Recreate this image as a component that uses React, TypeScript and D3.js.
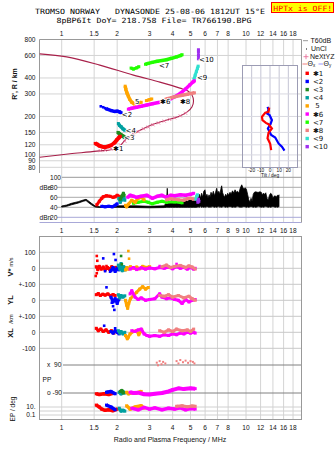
import React from 'react';
import * as d3 from 'd3';

const W = 335, H = 451;
const SANS = 'Liberation Sans, Arial, sans-serif';
const MONO = 'DejaVu Sans Mono, monospace';

// ---------- ticks ----------
const freqTicks = [1, 1.5, 2, 3, 4, 5, 6, 7, 8, 10, 12, 14, 16, 18];
const freqTicksMid = [1, 1.5, 2, 3, 4, 5, 6, 7, 8, 9, 10, 12, 14, 16, 18];
const heightTicks = [800, 600, 400, 300, 200, 150, 120, 100, 90, 80];
const ampTicks = [100, 80, 60, 40, 20];
const tiltTicks = [-20, -10, 0, 10, 20];
const epTicks = [10, 1, 0.1];

// ---------- legend ----------
const echoNames = ['✱1', '<2', '<3', '<4', ' 5', '✱6', '<7', '✱8', '<9', '<10'];
const echoColors = ['#ff0000', '#0000ff', '#1f8c1f', '#00a0a0', '#ffa500', '#ff00ff', '#22ff00', '#f08080', '#30e0d0', '#a030f0'];

// ---------- virtual height traces [MHz, km] ----------
const heightE1 = [[1.52, 123], [1.56, 121], [1.6, 118], [1.66, 116], [1.72, 115], [1.8, 117], [1.88, 120], [1.94, 125], [1.99, 131], [2.04, 136], [2.08, 140]];
const heightE2 = [[1.75, 229], [1.86, 222], [1.93, 219], [2.0, 220], [2.06, 217], [2.1, 214]];
const heightE2Dots = [[1.63, 240], [1.68, 236], [1.72, 232]];
const heightE3 = [[2.02, 150], [2.06, 146], [2.1, 143], [2.15, 140], [2.2, 137]];
const heightE4 = [[2.03, 176], [2.06, 170], [2.1, 166], [2.15, 160], [2.2, 156]];
const heightE5 = [[2.21, 345], [2.23, 325], [2.26, 305], [2.3, 288], [2.34, 272], [2.4, 258], [2.48, 250]];
const heightE5b = [[2.6, 255], [2.7, 258]];
const heightE5c = [[2.88, 266], [2.98, 270], [3.08, 274]];
const heightE6 = [[2.3, 228], [2.4, 232], [2.55, 236], [2.7, 240], [2.9, 246], [3.1, 251], [3.35, 257], [3.6, 263], [3.85, 272], [4.1, 285], [4.4, 303], [4.7, 328], [4.95, 352], [5.15, 372], [5.25, 380]];
const heightE7a = [[2.38, 478], [2.45, 470], [2.55, 480], [2.62, 490]];
const heightE7b = [[2.85, 512], [2.95, 520], [3.1, 530], [3.3, 540], [3.5, 548], [3.7, 556], [3.95, 570], [4.2, 585], [4.4, 598], [4.5, 608]];
const heightE8 = [[3.55, 268], [3.75, 275], [3.95, 281], [4.2, 287], [4.5, 293], [4.8, 298], [5.05, 303], [5.25, 306]];
const heightE9 = [[5.22, 392], [5.3, 420], [5.38, 450], [5.45, 475], [5.5, 495]];
const heightE10 = [[5.52, 565], [5.52, 600], [5.52, 640], [5.52, 665]];

// label anchors [MHz, km]
const echoLabelPos = [[1.9, 112], [2.12, 207], [2.18, 136], [2.22, 154], [2.5, 264], [3.42, 264], [3.37, 499], [4.38, 264], [5.42, 401], [5.56, 561]];

// model profile and NeXtYZ
const modelCurve = [[0.76, 617], [1.064, 585], [1.61, 504], [2.45, 421], [3.41, 371], [4.38, 333], [4.84, 316], [5.09, 294], [5.19, 264], [5.09, 237], [4.78, 216], [4.28, 199], [3.68, 187], [3.13, 174], [2.66, 156], [2.26, 135], [2.0, 113], [1.55, 107], [1.11, 102], [0.76, 96]];
const neXtYZ = [[1.62, 108], [1.72, 109], [1.85, 111], [1.97, 113], [2.08, 120], [2.2, 128], [2.32, 137], [2.45, 145], [2.6, 152], [2.78, 160], [2.95, 165], [3.13, 172], [3.35, 178], [3.6, 184], [3.85, 190], [4.1, 195], [4.4, 202], [4.7, 212]];

// tilt [deg, km]
const tiltX = [[-0.9, 235], [-1.6, 217], [-5.2, 214], [-8.8, 199], [-8.2, 187], [-4.5, 178], [-1.6, 174], [2.1, 161], [-1.6, 149], [-2.7, 135], [0.2, 122], [1.3, 109]];
const tiltY = [[-2.7, 238], [-1.6, 227], [-3.1, 211], [-0.5, 205], [2.1, 187], [0.5, 174], [-2.3, 161], [1.3, 143], [5.7, 137], [9.3, 123], [13, 116], [15.8, 108]];

// ---------- amplitude [MHz, dB] ----------
const unclFreq = [1.0, 1.065, 1.13, 1.23, 1.31, 1.355, 1.39, 1.45, 1.52, 1.61, 1.75, 2.0, 2.5, 3.0, 3.6, 3.7, 3.74, 3.78, 3.9, 4.0, 4.15, 4.3, 4.45, 4.6, 4.8, 5.0, 5.2, 5.4, 5.5, 5.58, 5.66, 5.74, 5.82, 5.9, 5.99, 6.06, 6.14, 6.22, 6.3, 6.38, 6.46, 6.55, 6.65, 6.74, 6.84, 6.93, 7.02, 7.12, 7.22, 7.3, 7.38, 7.46, 7.55, 7.65, 7.75, 7.85, 7.95, 8.05, 8.19, 8.3, 8.45, 8.6, 8.72, 8.85, 9.0, 9.15, 9.3, 9.4, 9.48, 9.6, 9.75, 9.9, 10.05, 10.2, 10.35, 10.5, 10.65, 10.8, 10.95, 11.1, 11.3, 11.5, 11.7, 11.9, 12.1, 12.25, 12.4, 12.6, 12.8, 13.0, 13.2, 13.4, 13.6, 13.8, 14.0, 14.2, 14.4, 14.6, 14.8, 15.0, 15.1];
const unclTop = [42.6, 44.6, 48, 51.3, 54.6, 56, 53.3, 48, 42.6, 41.3, 42, 43, 43, 42, 43, 50, 78, 48, 52, 55, 48, 52, 50, 57, 52, 56, 54, 60, 55, 66, 58, 68, 60, 72, 75, 62, 66, 58, 65, 60, 70, 64, 72, 63, 70, 78, 68, 72, 66, 76, 83, 70, 64, 60, 66, 62, 68, 64, 70, 66, 73, 68, 75, 70, 72, 68, 78, 82, 85, 80, 76, 79, 76, 66, 55, 50, 58, 52, 66, 70, 71, 70, 70, 71, 70, 64, 68, 66, 69, 58, 54, 64, 68, 66, 58, 62, 63, 60, 64, 63, 65];
const unclBottom = [40.5, 42, 45, 48.5, 52, 53.5, 50, 45, 40.5, 39.5, 40, 40, 39.5, 39, 39.5, 40, 40, 40, 40, 40, 40, 40, 40, 40, 40, 40, 40, 40, 41, 40, 42, 40, 41, 40, 41, 40, 42, 41, 40, 41, 40, 42, 41, 40, 41, 40, 41, 42, 40, 41, 40, 41, 42, 41, 40, 41, 40, 41, 42, 41, 40, 41, 40, 41, 42, 41, 40, 41, 40, 41, 42, 41, 40, 41, 40, 41, 42, 41, 40, 41, 40, 41, 42, 41, 40, 41, 40, 41, 42, 41, 40, 41, 40, 41, 42, 41, 40, 41, 40, 41, 41];

const ampE1 = [[1.55, 45], [1.6, 52], [1.65, 58], [1.68, 61], [1.75, 63], [1.83, 62], [1.9, 60], [1.95, 61], [2.0, 64], [2.05, 62]];
const ampE2 = [[1.65, 42], [1.72, 41], [1.8, 42], [1.88, 41], [1.95, 44], [2.0, 47]];
const ampE3 = [[2.08, 56], [2.12, 62], [2.16, 68], [2.18, 64]];
const ampE4 = [[2.04, 58], [2.08, 50], [2.12, 55], [2.17, 60], [2.2, 54]];
const ampE5 = [[2.22, 44], [2.25, 41], [2.3, 46], [2.4, 54], [2.5, 50], [2.6, 58], [2.7, 60], [2.8, 55]];
const ampE6 = [[2.28, 60], [2.35, 64], [2.45, 62], [2.55, 60], [2.7, 62], [2.9, 64], [3.1, 58], [3.3, 62], [3.5, 64], [3.7, 60], [3.9, 64], [4.1, 63], [4.4, 65], [4.7, 64], [5.0, 66], [5.2, 68]];
const ampE7 = [[2.45, 48], [2.6, 50], [2.8, 52], [2.95, 50], [3.1, 47], [3.3, 50], [3.5, 52], [3.7, 50], [4.1, 51], [4.5, 49]];
const ampE8 = [[3.7, 55], [3.9, 57], [4.05, 56], [4.3, 55], [4.6, 54], [4.8, 57], [5.0, 58], [5.2, 56]];
const ampE9 = [[5.35, 56], [5.4, 62], [5.45, 65]];
const ampE10 = [[5.48, 50], [5.52, 56], [5.55, 52]];

// ---------- V* [MHz, m/s] ----------
const vstarE1 = [[1.54, 10], [1.57, -8], [1.6, 12], [1.64, -5], [1.68, 8], [1.72, -10], [1.77, 5], [1.82, -6], [1.87, 10], [1.92, -4], [1.97, 6]];
const vstarE1Dots = [[1.55, 77], [1.56, 47], [1.53, -48], [1.55, -31], [1.75, 14]];
const vstarE2 = [[1.85, -15], [1.9, 5], [1.95, -20], [2.0, 0], [2.04, -10]];
const vstarE2Dots = [[1.68, 62], [1.92, 89], [1.83, -21], [1.96, 52], [1.72, -18]];
const vstarE3Dots = [[2.1, 77], [2.12, 25]];
const vstarE4 = [[2.03, 20], [2.07, -5], [2.1, 30], [2.13, -15], [2.17, 10], [2.2, -10], [2.22, 5]];
const vstarE5 = [[2.22, -10], [2.26, 5], [2.3, -5], [2.36, 10], [2.45, 0], [2.55, 8], [2.65, -3], [2.75, 12], [2.88, 5], [3.0, 10]];
const vstarE5Dots = [[2.3, 108], [2.32, 60]];
const vstarE6 = [[2.35, -5], [2.45, 5], [2.55, -8], [2.7, 3], [2.85, -5], [3.0, 2], [3.2, -3], [3.4, 5], [3.6, 0], [3.8, 8], [4.0, -3], [4.2, 10], [4.4, 0], [4.6, 6], [4.8, -5], [5.0, 5], [5.2, -5], [5.3, 0]];
const vstarE6Dots = [[4.2, 27], [3.4, 14]];
const vstarE8 = [[3.5, 10], [3.7, 20], [3.9, 5], [4.1, 12], [4.4, 18], [4.7, 5], [4.9, 15], [5.1, 8], [5.3, -5]];

// ---------- YL [MHz, km] ----------
const ylE1 = [[1.54, 35], [1.58, 42], [1.62, 30], [1.67, 38], [1.72, 32], [1.78, 40], [1.84, 28], [1.9, 36], [1.95, 30]];
const ylE2 = [[1.85, 20], [1.9, -10], [1.95, 10], [2.0, -20], [2.04, 5]];
const ylE2Dots = [[1.75, 81], [1.9, -37], [1.93, -60], [1.87, -15]];
const ylE4 = [[2.03, 35], [2.07, 15], [2.1, 30], [2.15, 20], [2.2, 28]];
const ylE5 = [[2.22, 0], [2.25, -30], [2.28, -50], [2.31, -20], [2.36, 10], [2.45, 30], [2.55, 50], [2.65, 70], [2.75, 85], [2.85, 70], [2.95, 80]];
const ylE6 = [[2.35, 40], [2.4, 60], [2.5, 20], [2.6, 5], [2.7, 15], [2.85, 0], [3.0, 5], [3.2, 10], [3.4, 40], [3.5, 20], [3.7, 10], [3.9, 15], [4.1, 5], [4.3, 0], [4.5, -20], [4.7, 5], [4.9, -10], [5.1, 0], [5.3, 5]];
const ylE8 = [[3.4, 30], [3.6, 25], [3.8, 35], [4.0, 20], [4.3, 30], [4.6, 15], [4.9, 25], [5.1, 10], [5.3, 0]];

// ---------- XL [MHz, km] ----------
const xlE1 = [[1.54, 25], [1.58, 10], [1.63, 20], [1.68, 5], [1.74, 15], [1.8, 0], [1.86, 10], [1.92, -5]];
const xlE2 = [[1.85, 5], [1.9, -5], [1.95, 10], [2.0, 0], [2.05, -10]];
const xlE2Dots = [[1.7, 41], [1.95, 25]];
const xlE4 = [[2.03, 10], [2.07, -5], [2.1, 5], [2.15, -10], [2.2, 0]];
const xlE5 = [[2.22, -20], [2.27, -40], [2.3, -30], [2.35, -10], [2.45, 5], [2.55, 10], [2.62, -15], [2.72, 15]];
const xlE6 = [[2.4, 10], [2.5, 5], [2.6, 15], [2.7, 20], [2.8, -10], [2.9, -20], [3.0, -25], [3.2, -20], [3.4, -25], [3.6, -15], [3.8, -20], [4.0, -10], [4.2, -15], [4.4, -5], [4.6, -10], [4.8, 0], [5.0, -5], [5.2, 0], [5.3, -5]];
const xlE8 = [[3.4, 10], [3.6, 0], [3.8, 15], [4.0, 5], [4.2, 20], [4.5, 10], [4.8, 15], [5.0, 5], [5.2, 20]];

// ---------- PP [MHz, deg] ----------
const ppE1 = [[1.54, -95], [1.6, -100], [1.7, -95], [1.8, -100], [1.9, -92]];
const ppE2 = [[1.75, -85], [1.85, -80], [1.95, -95]];
const ppE3 = [[2.08, -80], [2.12, -75], [2.16, -90]];
const ppE4 = [[2.05, -85], [2.1, -95], [2.15, -82], [2.2, -90]];
const ppE5 = [[2.25, -85], [2.3, -95], [2.4, -88], [2.5, -92], [2.7, -80]];
const ppE6 = [[2.35, -85], [2.45, -90], [2.6, -88], [2.8, -98], [3.0, -100], [3.2, -95], [3.5, -90], [3.8, -80], [4.0, -70], [4.3, -60], [4.6, -65], [5.0, -60], [5.3, -62]];
const ppE8Dots = [[3.28, 105], [3.33, 88], [3.4, 115], [3.48, 95], [3.55, 110], [3.65, 100], [4.2, 115], [4.3, 100], [4.4, 122], [4.55, 108], [4.7, 118], [4.85, 104], [5.0, 115], [5.15, 110], [5.25, 100]];

// ---------- EP [MHz, deg] ----------
const epE1 = [[1.54, 30], [1.6, 10], [1.65, 3], [1.72, 1.5], [1.8, 2], [1.9, 1.2], [2.0, 3]];
const epE2 = [[1.75, 30], [1.85, 10], [1.95, 2]];
const epE4 = [[2.05, 5], [2.1, 1], [2.15, 1.5], [2.2, 0.9]];
const epE5 = [[2.25, 20], [2.35, 3], [2.5, 10], [2.7, 20], [2.8, 5]];
const epE6 = [[2.4, 5], [2.6, 2], [2.8, 8], [3.0, 3], [3.2, 6], [3.5, 2], [3.8, 5], [4.1, 3], [4.4, 6], [4.7, 2], [5.0, 4], [5.3, 3]];
const epE8 = [[4.2, 15], [4.5, 20], [4.8, 12], [5.1, 18], [5.3, 15]];

// ---------- layout ----------
const X0 = 39.5, X1 = 301.5;
const UT = 39.5, UB = 222.5;
const LT = 236.5, LB = 419.5;

const fx = d3.scaleLog().domain([1, 10]).range([61.7, 246]);
const yH = d3.scaleLog().domain([80, 800]).range([167.3, 39.5]);
const yA = d3.scaleLinear().domain([20, 100]).range([217.3, 177.3]);
const yV = d3.scaleLinear().domain([-100, 100]).range([284.3, 252.3]);
const yYL = d3.scaleLinear().domain([-100, 100]).range([316.3, 284.3]);
const yXL = d3.scaleLinear().domain([-100, 100]).range([348.3, 316.3]);
const yPP = d3.scaleLinear().domain([-90, 90]).range([393, 365]);
const yEP = d3.scaleLog().domain([0.1, 10]).range([415, 407]);
const tx = d3.scaleLinear().domain([-30, 30]).range([242.5, 297.5]);

type Pt = number[];

function Band({ pts, y, color, w = 3 }: { pts: Pt[]; y: any; color: string; w?: number }) {
  const line = d3.line<Pt>().x(d => fx(d[0])).y(d => y(d[1]));
  return (
    <g>
      <path d={line(pts) || ''} fill="none" stroke={color} strokeWidth={w} strokeLinejoin="round" />
      {pts.map((d, i) => (
        <rect key={i} x={fx(d[0]) - 1.5} y={y(d[1]) - 1.5} width={3} height={3} fill={color} />
      ))}
    </g>
  );
}

function Dots({ pts, y, color, s = 2.6 }: { pts: Pt[]; y: any; color: string; s?: number }) {
  return (
    <g>
      {pts.map((d, i) => (
        <rect key={i} x={fx(d[0]) - s / 2} y={y(d[1]) - s / 2} width={s} height={s} fill={color} />
      ))}
    </g>
  );
}

export default function App() {
  const C = echoColors;
  const modelLine = d3.line<Pt>().x(d => fx(d[0])).y(d => yH(d[1])).curve(d3.curveCatmullRom.alpha(0.5));
  const unclArea = d3.area<number>()
    .x((_, i) => fx(unclFreq[i]))
    .y0((_, i) => yA(unclBottom[i]))
    .y1((_, i) => yA(unclTop[i]));
  const tiltLine = d3.line<Pt>().x(d => tx(d[0])).y(d => yH(d[1]));

  const tickTxt = { fontFamily: SANS, fontSize: 6.6, fill: '#111' } as const;
  const gridC = '#d4d4d4';
  const frameC = '#999';

  const lowerLines = [yV(100), yV(0), yV(-100), yYL(0), yYL(-100), yXL(0), yXL(-100)];
  const lowerLabels = [
    { t: '100', y: yV(100) }, { t: '0', y: yV(0) }, { t: '+-100', y: yV(-100) },
    { t: '0', y: yYL(0) }, { t: '+-100', y: yYL(-100) }, { t: '0', y: yXL(0) }, { t: '-100', y: yXL(-100) },
  ];

  return (
    <svg width={W} height={H} viewBox={`0 0 ${W} ${H}`}
      style={{ position: 'absolute', left: 0, top: 0, background: '#fff', display: 'block' }}>
      <rect x={0} y={0} width={W} height={H} fill="#fff" />

      {/* titles */}
      <text x={35} y={14} fontFamily={MONO} fontSize={7.2} textLength={230} lengthAdjust="spacingAndGlyphs" style={{ whiteSpace: 'pre' }} fill="#000">
        {'TROMSO NORWAY   DYNASONDE 25-08-06 1812UT 15°E'}
      </text>
      <text x={56.5} y={22.5} fontFamily={MONO} fontSize={7.2} textLength={195} lengthAdjust="spacingAndGlyphs" style={{ whiteSpace: 'pre' }} fill="#000">
        {'8pBP6It DoY= 218.758 File= TR766190.BPG'}
      </text>
      <rect x={271.5} y={2.5} width={62} height={10} fill="#ffff00" stroke="#ff0000" strokeWidth={1} />
      <text x={273.3} y={10.5} fontFamily={MONO} fontSize={7.2} textLength={59} lengthAdjust="spacingAndGlyphs" style={{ whiteSpace: 'pre' }} fill="#ff0000">
        {'HPTx is OFF!'}
      </text>

      {/* ===== upper panel grid ===== */}
      {freqTicks.map(t => (
        <line key={'vu' + t} x1={fx(t)} x2={fx(t)} y1={UT} y2={UB} stroke={gridC} strokeWidth={1} />
      ))}
      {heightTicks.slice(1).map(t => (
        <line key={'hh' + t} x1={X0} x2={X1} y1={yH(t)} y2={yH(t)} stroke={gridC} strokeWidth={1} />
      ))}
      {/* amplitude grid */}
      <line x1={62} x2={X1} y1={yA(100)} y2={yA(100)} stroke="#999" strokeWidth={1} />
      {[80, 60, 40].map(t => (
        <line key={'ag' + t} x1={57} x2={X1} y1={yA(t)} y2={yA(t)} stroke="#aaa" strokeWidth={1} />
      ))}
      <line x1={57} x2={X1} y1={yA(20)} y2={yA(20)} stroke="#a8a8d8" strokeWidth={1} />
      <line x1={X0} x2={X1} y1={UB} y2={UB} stroke="#a8a8d8" strokeWidth={1} />
      {/* upper frame */}
      <line x1={X0} x2={X1} y1={UT} y2={UT} stroke={frameC} />
      <line x1={X0} x2={X0} y1={UT} y2={173} stroke={frameC} />
      <line x1={X1} x2={X1} y1={UT} y2={UB} stroke={frameC} />

      {/* height labels */}
      {heightTicks.map(t => (
        <text key={'hl' + t} x={35.5} y={yH(t) + 2.3} textAnchor="end" {...tickTxt}>{t}</text>
      ))}
      <text transform={`translate(16.5,84) rotate(-90)`} textAnchor="middle" fontFamily={SANS} fontSize={7} fontWeight="bold" fill="#111">R', R / km</text>

      {/* amplitude labels */}
      {ampTicks.map(t => (
        <text key={'al' + t} x={50} y={yA(t) + 2.3} {...tickTxt}>{t}</text>
      ))}
      <text x={39.5} y={yA(80) + 2.3} {...tickTxt}>dBe</text>
      <text x={39.5} y={yA(20) + 2.3} {...tickTxt}>dBn</text>

      {/* top freq labels */}
      {freqTicks.map(t => (
        <text key={'ft' + t} x={fx(t)} y={36} textAnchor="middle" {...tickTxt}>{t}</text>
      ))}
      {freqTicksMid.map(t => (
        <text key={'fm' + t} x={fx(t)} y={232.5} textAnchor="middle" {...tickTxt}>{t}</text>
      ))}

      {/* ===== model profile ===== */}
      <path d={modelLine(modelCurve) || ''} fill="none" stroke="#a8204a" strokeWidth={1.1} />
      {neXtYZ.map((d, i) => {
        const cx = fx(d[0]), cy = yH(d[1]);
        return <path key={'nx' + i} d={`M${cx - 1.5},${cy - 1.5}L${cx + 1.5},${cy + 1.5}M${cx - 1.5},${cy + 1.5}L${cx + 1.5},${cy - 1.5}`} stroke="#e8709a" strokeWidth={0.9} />;
      })}

      {/* ===== height traces ===== */}
      <Band pts={heightE7a} y={yH} color={C[6]} />
      <Band pts={heightE7b} y={yH} color={C[6]} w={3.5} />
      <Band pts={heightE10} y={yH} color={C[9]} w={2.5} />
      <Band pts={heightE9} y={yH} color={C[8]} />
      <Band pts={heightE5} y={yH} color={C[4]} w={3.5} />
      <Band pts={heightE5b} y={yH} color={C[4]} />
      <Band pts={heightE5c} y={yH} color={C[4]} />
      <Band pts={heightE6} y={yH} color={C[5]} w={3.5} />
      <Band pts={heightE8} y={yH} color={C[7]} w={3.5} />
      <Band pts={heightE2} y={yH} color={C[1]} w={3.5} />
      <Dots pts={heightE2Dots} y={yH} color={C[1]} />
      <Band pts={heightE4} y={yH} color={C[3]} w={3.5} />
      <Band pts={heightE3} y={yH} color={C[2]} w={4} />
      <Band pts={heightE1} y={yH} color={C[0]} w={4} />

      {/* echo labels */}
      {echoLabelPos.map((d, i) => (
        <text key={'el' + i} x={fx(d[0])} y={yH(d[1]) + 2.5} fontFamily="DejaVu Sans, sans-serif" fontSize={7} fill="#000"
          stroke="#fff" strokeWidth={1.6} paintOrder="stroke" style={{ whiteSpace: 'pre' }}>{echoNames[i].trim()}</text>
      ))}

      {/* ===== tilt inset ===== */}
      <rect x={242.5} y={65.5} width={55} height={102} fill="#fff" stroke="#9c9cb4" strokeWidth={1} />
      {tiltTicks.map(t => (
        <line key={'tg' + t} x1={tx(t)} x2={tx(t)} y1={66} y2={167} stroke="#c4c4d4" strokeWidth={1} />
      ))}
      {heightTicks.filter(t => yH(t) > 66 && yH(t) < 167).map(t => (
        <line key={'th' + t} x1={243} x2={297} y1={yH(t)} y2={yH(t)} stroke="#d8d8e0" strokeWidth={1} />
      ))}
      <path d={tiltLine(tiltY) || ''} fill="none" stroke="#0000ff" strokeWidth={2.2} />
      <path d={tiltLine(tiltX) || ''} fill="none" stroke="#ff0000" strokeWidth={2.2} />
      {tiltTicks.map(t => (
        <text key={'tl' + t} x={tx(t)} y={172} textAnchor="middle" fontFamily={SANS} fontSize={4.8} fill="#111">{t}</text>
      ))}
      <text x={tx(0)} y={177} textAnchor="middle" fontFamily={SANS} fontSize={4.8} fill="#111">Tilt / deg</text>

      {/* ===== amplitude traces ===== */}
      <path d={unclArea(unclFreq) || ''} fill="#000" stroke="#000" strokeWidth={0.8} />
      <Band pts={ampE7} y={yA} color={C[6]} />
      <Band pts={ampE5} y={yA} color={C[4]} />
      <Band pts={ampE2} y={yA} color={C[1]} />
      <Band pts={ampE1} y={yA} color={C[0]} />
      <Band pts={ampE4} y={yA} color={C[3]} />
      <Band pts={ampE3} y={yA} color={C[2]} />
      <Band pts={ampE6} y={yA} color={C[5]} w={3.5} />
      <Band pts={ampE8} y={yA} color={C[7]} />
      <Band pts={ampE9} y={yA} color={C[8]} />
      <Band pts={ampE10} y={yA} color={C[9]} />

      {/* ===== legend ===== */}
      <line x1={303} x2={308} y1={40.7} y2={40.7} stroke="#999" strokeWidth={1} />
      <text x={310.5} y={43} fontFamily={SANS} fontSize={7} fill="#111">T60dB</text>
      <rect x={306} y={48.5} width={1} height={1} fill="#000" />
      <text x={311} y={51.3} fontFamily={SANS} fontSize={7} fill="#111">UnCl</text>
      <path d="M303.5,56.7H308.5M306,54.2V59.2" stroke="#e8709a" strokeWidth={0.9} />
      <text x={310} y={59} fontFamily={SANS} fontSize={7} fill="#111">NeXtYZ</text>
      <line x1={302.5} x2={307} y1={64} y2={64} stroke="#f08080" strokeWidth={1} />
      <text x={307.5} y={66.3} fontFamily={SANS} fontSize={7} fill="#111">Θ<tspan fontSize={4.5} dy={1}>x</tspan></text>
      <line x1={318.5} x2={323} y1={64} y2={64} stroke="#9999ff" strokeWidth={1} />
      <text x={323.5} y={66.3} fontFamily={SANS} fontSize={7} fill="#111">Θ<tspan fontSize={4.5} dy={1}>y</tspan></text>
      {echoNames.map((n, i) => (
        <g key={'lg' + i}>
          <rect x={305.5} y={73.3 + 8.15 * i - 1.7} width={3.4} height={3.4} fill={C[i]} />
          <text x={313} y={73.3 + 8.15 * i + 2.5} fontFamily="DejaVu Sans, sans-serif" fontSize={7} fill="#111" style={{ whiteSpace: 'pre' }}>{n}</text>
        </g>
      ))}

      {/* ===== lower panel ===== */}
      {freqTicks.map(t => (
        <line key={'vl' + t} x1={fx(t)} x2={fx(t)} y1={LT} y2={LB} stroke={gridC} strokeWidth={1} />
      ))}
      {lowerLines.map((y, i) => (
        <line key={'ll' + i} x1={X0} x2={X1} y1={y} y2={y} stroke="#c8c8c8" strokeWidth={1} />
      ))}
      <line x1={63} x2={X1} y1={yPP(90)} y2={yPP(90)} stroke="#808080" strokeWidth={1} />
      <line x1={63} x2={X1} y1={yPP(-90)} y2={yPP(-90)} stroke="#808080" strokeWidth={1} />
      {epTicks.map(t => (
        <line key={'ep' + t} x1={X0} x2={X1} y1={yEP(t)} y2={yEP(t)} stroke="#d0d0d0" strokeWidth={1} />
      ))}
      <rect x={X0} y={LT} width={X1 - X0} height={LB - LT} fill="none" stroke={frameC} strokeWidth={1} />

      {lowerLabels.map((l, i) => (
        <text key={'lw' + i} x={35.5} y={l.y + 2.3} textAnchor="end" {...tickTxt}>{l.t}</text>
      ))}
      <text x={47} y={yPP(90) + 2.3} {...tickTxt} style={{ whiteSpace: 'pre' }}>{'x  90'}</text>
      <text x={47} y={yPP(-90) + 2.3} {...tickTxt} style={{ whiteSpace: 'pre' }}>{'o -90'}</text>
      <text x={42.5} y={381.5} {...tickTxt}>PP</text>
      <text x={35.5} y={yEP(10) + 2.3} textAnchor="end" {...tickTxt}>10.</text>
      <text x={35.5} y={yEP(0.1) + 2.3} textAnchor="end" {...tickTxt}>0.1</text>

      <text transform={`translate(12.5,267) rotate(-90)`} textAnchor="middle" fontFamily={SANS} fontSize={7.5} fontWeight="bold" fill="#111">V* <tspan fontSize={5.5} fontWeight="normal">m/s</tspan></text>
      <text transform={`translate(12.5,300) rotate(-90)`} textAnchor="middle" fontFamily={SANS} fontSize={7.5} fontWeight="bold" fill="#111">YL</text>
      <text transform={`translate(12.5,319) rotate(-90)`} textAnchor="middle" fontFamily={SANS} fontSize={6} fill="#111">/km</text>
      <text transform={`translate(12.5,333) rotate(-90)`} textAnchor="middle" fontFamily={SANS} fontSize={7.5} fontWeight="bold" fill="#111">XL</text>
      <text transform={`translate(15,409) rotate(-90)`} textAnchor="middle" fontFamily={SANS} fontSize={6.5} fill="#111">EP / deg</text>

      {/* V* */}
      <Band pts={vstarE1} y={yV} color={C[0]} />
      <Dots pts={vstarE1Dots} y={yV} color={C[0]} />
      <Band pts={vstarE2} y={yV} color={C[1]} />
      <Dots pts={vstarE2Dots} y={yV} color={C[1]} />
      <Band pts={vstarE4} y={yV} color={C[3]} />
      <Dots pts={vstarE3Dots} y={yV} color={C[2]} />
      <Band pts={vstarE5} y={yV} color={C[4]} />
      <Dots pts={vstarE5Dots} y={yV} color={C[4]} />
      <Band pts={vstarE6} y={yV} color={C[5]} />
      <Dots pts={vstarE6Dots} y={yV} color={C[5]} />
      <Band pts={vstarE8} y={yV} color={C[7]} />

      {/* YL */}
      <Band pts={ylE1} y={yYL} color={C[0]} />
      <Band pts={ylE2} y={yYL} color={C[1]} />
      <Dots pts={ylE2Dots} y={yYL} color={C[1]} />
      <Band pts={ylE4} y={yYL} color={C[3]} />
      <Band pts={ylE5} y={yYL} color={C[4]} />
      <Band pts={ylE6} y={yYL} color={C[5]} />
      <Band pts={ylE8} y={yYL} color={C[7]} />

      {/* XL */}
      <Band pts={xlE1} y={yXL} color={C[0]} />
      <Band pts={xlE2} y={yXL} color={C[1]} />
      <Dots pts={xlE2Dots} y={yXL} color={C[1]} />
      <Band pts={xlE4} y={yXL} color={C[3]} />
      <Band pts={xlE5} y={yXL} color={C[4]} />
      <Band pts={xlE6} y={yXL} color={C[5]} />
      <Band pts={xlE8} y={yXL} color={C[7]} />

      {/* PP */}
      <Band pts={ppE1} y={yPP} color={C[0]} w={3.5} />
      <Band pts={ppE2} y={yPP} color={C[1]} w={3.5} />
      <Band pts={ppE4} y={yPP} color={C[3]} w={3.5} />
      <Band pts={ppE3} y={yPP} color={C[2]} w={3.5} />
      <Band pts={ppE5} y={yPP} color={C[4]} w={3.5} />
      <Band pts={ppE6} y={yPP} color={C[5]} w={4} />
      <Dots pts={ppE8Dots} y={yPP} color={C[7]} s={2} />

      {/* EP */}
      <Band pts={epE1} y={yEP} color={C[0]} w={3.5} />
      <Band pts={epE2} y={yEP} color={C[1]} w={3.5} />
      <Band pts={epE4} y={yEP} color={C[3]} w={3.5} />
      <Band pts={epE5} y={yEP} color={C[4]} w={3.5} />
      <Band pts={epE6} y={yEP} color={C[5]} w={3.5} />
      <Band pts={epE8} y={yEP} color={C[7]} w={3} />

      {/* bottom labels */}
      {freqTicks.map(t => (
        <text key={'fb' + t} x={fx(t)} y={430} textAnchor="middle" {...tickTxt}>{t}</text>
      ))}
      <text x={170} y={442} textAnchor="middle" fontFamily={SANS} fontSize={7} fill="#111">Radio and Plasma Frequency / MHz</text>
    </svg>
  );
}
